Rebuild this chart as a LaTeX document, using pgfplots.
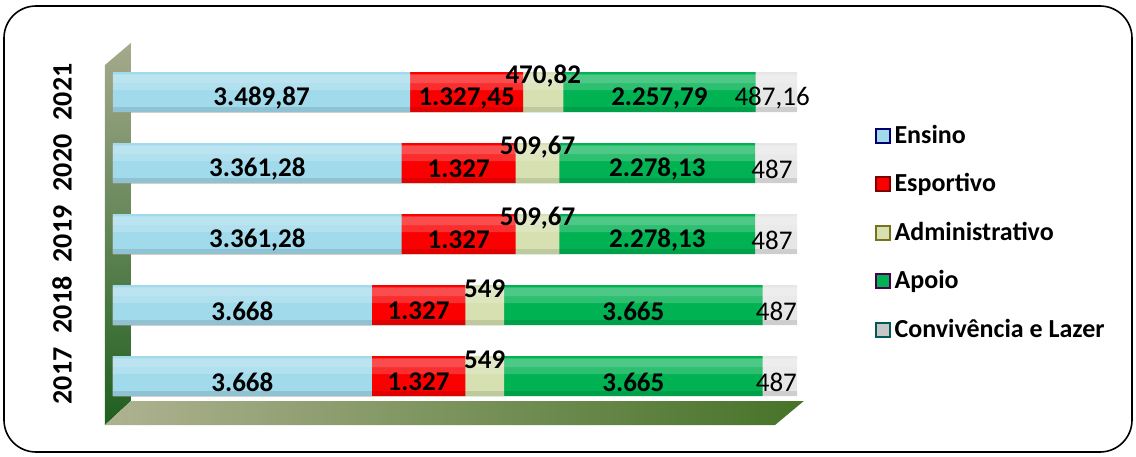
\documentclass[border=0pt]{standalone}
\usepackage{fontspec}
\setmainfont{Carlito}
\usepackage{pgfplots}
\usepackage{pgfplotstable}
\pgfplotsset{compat=1.18}

% area (m2) per year and use
\pgfplotstableread{
year ensino esportivo admin apoio lazer
2017 3668 1327 549 3665 487
2018 3668 1327 549 3665 487
2019 3361.28 1327 509.67 2278.13 487
2020 3361.28 1327 509.67 2278.13 487
2021 3489.87 1327.45 470.82 2257.79 487.16
}\areas
\pgfplotstablecreatecol[expr={\thisrow{ensino}+\thisrow{esportivo}+\thisrow{admin}+\thisrow{apoio}+\thisrow{lazer}}]{total}\areas

\definecolor{cEns}{RGB}{160,218,235}
\definecolor{cEsp}{RGB}{250,0,0}
\definecolor{cAdm}{RGB}{214,224,176}
\definecolor{cApo}{RGB}{0,178,82}
\definecolor{cLaz}{RGB}{230,230,230}

\pgfplotsset{
  cyl/.style={xbar, draw=none, fill=#1},
  lbl/.style={forget plot, draw=none, mark=none, nodes near coords, point meta=explicit,
    nodes near coords={\pgfmathprintnumber[use comma,1000 sep={.},precision=2,assume math mode=true]{\pgfplotspointmeta}},
    every node near coord/.style={anchor=center, inner sep=0pt, font=\fontsize{13.5}{15}\selectfont\bfseries, text=black}},
  sq/.style 2 args={legend image code/.code={\draw[fill=#1, draw=#2, line width=1pt] (0pt,-3.5pt) rectangle (7pt,3.5pt);}}
}

\begin{document}
\begin{tikzpicture}
\begin{scope}[shift={(-56.5pt,205.75pt)}, x=0.5pt, y=-0.5pt]
  \path[use as bounding box] (0,0) rectangle (1136,456);
  \draw[line width=0.8pt, rounded corners=16pt] (4,6) rectangle (1132,452);
  % 3D wall and floor
  \shade[top color={rgb,255:red,165;green,170;blue,140}, bottom color={rgb,255:red,30;green,95;blue,30}]
    (105,65) -- (132,42) -- (132,400) -- (105,425) -- cycle;
  \shade[left color={rgb,255:red,175;green,178;blue,145}, right color={rgb,255:red,70;green,115;blue,40}]
    (105,425) -- (132,400) -- (805,400) -- (775,425) -- cycle;
  \draw[white, line width=1pt] (132,42) -- (132,400) -- (805,400);
\end{scope}

\begin{axis}[
  at={(0,0)}, anchor=south west,
  scale only axis, width=342pt, height=177.5pt,
  xmin=0, xmax=100, ymin=-0.5, ymax=4.5,
  bar width=20pt,
  xtick=\empty,
  ytick={0,1,2,3,4},
  yticklabels={2017,2018,2019,2020,2021},
  yticklabel style={rotate=90, anchor=south, font=\fontsize{14}{17}\selectfont\bfseries},
  yticklabel shift=17pt,
  axis line style={draw=none},
  tick style={draw=none},
  reverse legend,
  legend style={at={(1.104,0.83)}, anchor=north west, draw=none, fill=none,
    font=\fontsize{13}{15}\selectfont\bfseries, row sep=9.6pt,
    /tikz/every even column/.append style={column sep=2pt}},
  legend cell align=left,
]
% cumulative bars, longest first, so each segment shows its share of the year
\addplot[cyl=cLaz, sq={cLaz!70!gray}{teal!70!black}] table[y expr=\coordindex,
  x expr={(\thisrow{ensino}+\thisrow{esportivo}+\thisrow{admin}+\thisrow{apoio}+\thisrow{lazer})/\thisrow{total}*100}] {\areas};
\addlegendentry{Convivência e Lazer}
\addplot[cyl=cApo, sq={cApo}{violet!60!black}] table[y expr=\coordindex,
  x expr={(\thisrow{ensino}+\thisrow{esportivo}+\thisrow{admin}+\thisrow{apoio})/\thisrow{total}*100}] {\areas};
\addlegendentry{Apoio}
\addplot[cyl=cAdm, sq={cAdm}{olive!80!black}] table[y expr=\coordindex,
  x expr={(\thisrow{ensino}+\thisrow{esportivo}+\thisrow{admin})/\thisrow{total}*100}] {\areas};
\addlegendentry{Administrativo}
\addplot[cyl=cEsp, sq={cEsp}{red!50!black}] table[y expr=\coordindex,
  x expr={(\thisrow{ensino}+\thisrow{esportivo})/\thisrow{total}*100}] {\areas};
\addlegendentry{Esportivo}
\addplot[cyl=cEns, sq={cEns}{blue!45!black}] table[y expr=\coordindex,
  x expr={\thisrow{ensino}/\thisrow{total}*100}] {\areas};
\addlegendentry{Ensino}

% cylinder look: light band on top, shadow at the bottom
\addplot[xbar, forget plot, draw=none, fill=white, fill opacity=0.18, bar width=8pt, bar shift=5pt]
  table[y expr=\coordindex, x expr={\thisrow{total}/\thisrow{total}*100}] {\areas};
\addplot[xbar, forget plot, draw=none, fill=white, fill opacity=0.15, bar width=4pt, bar shift=6.5pt]
  table[y expr=\coordindex, x expr={\thisrow{total}/\thisrow{total}*100}] {\areas};
\addplot[xbar, forget plot, draw=none, fill=black, fill opacity=0.1, bar width=2.5pt, bar shift=-8.75pt]
  table[y expr=\coordindex, x expr={\thisrow{total}/\thisrow{total}*100}] {\areas};

% value labels
\addplot[lbl, every node near coord/.append style={yshift=-3pt}] table[y expr=\coordindex, meta=ensino,
  x expr={0.5*\thisrow{ensino}/\thisrow{total}*100}] {\areas};
\addplot[lbl, every node near coord/.append style={yshift=-3pt}] table[y expr=\coordindex, meta=esportivo,
  x expr={(\thisrow{ensino}+0.5*\thisrow{esportivo})/\thisrow{total}*100}] {\areas};
\addplot[lbl, every node near coord/.append style={yshift=8pt}] table[y expr=\coordindex, meta=admin,
  x expr={(\thisrow{ensino}+\thisrow{esportivo}+0.5*\thisrow{admin})/\thisrow{total}*100}] {\areas};
\addplot[lbl, every node near coord/.append style={yshift=-3pt}] table[y expr=\coordindex, meta=apoio,
  x expr={(\thisrow{ensino}+\thisrow{esportivo}+\thisrow{admin}+0.5*\thisrow{apoio})/\thisrow{total}*100}] {\areas};
\addplot[lbl, every node near coord/.append style={yshift=-3pt, font=\fontsize{13.5}{15}\selectfont}] table[y expr=\coordindex, meta=lazer,
  x expr={(\thisrow{ensino}+\thisrow{esportivo}+\thisrow{admin}+\thisrow{apoio}+0.4*\thisrow{lazer})/\thisrow{total}*100}] {\areas};
\end{axis}
\end{tikzpicture}
\end{document}
